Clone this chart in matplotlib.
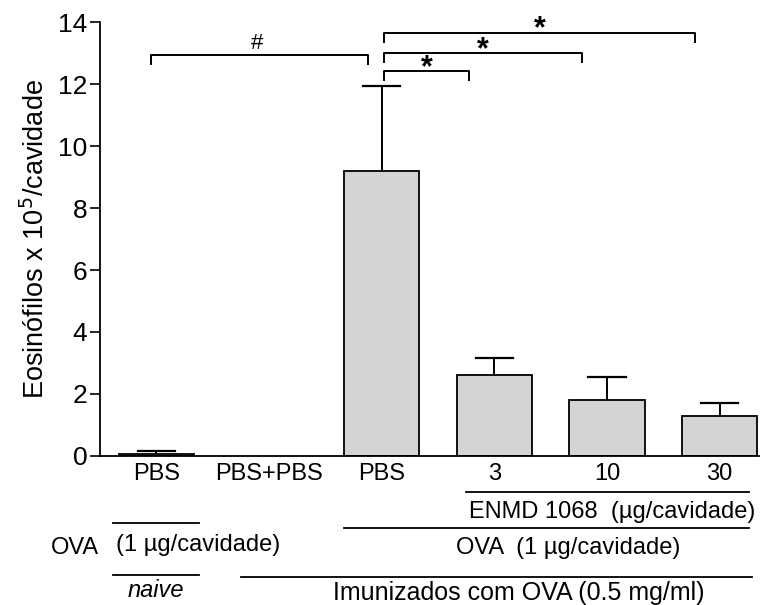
import matplotlib.pyplot as plt
from matplotlib.transforms import blended_transform_factory

plt.rcParams['font.family'] = ['Liberation Sans', 'DejaVu Sans']

grupos = ['PBS', 'PBS+PBS', 'PBS', '3', '10', '30']
medias = [0.08, 0.0, 9.2, 2.6, 1.8, 1.3]
erros = [0.07, 0.0, 2.75, 0.55, 0.75, 0.42]

# comparacoes: (grupo a, grupo b, altura, simbolo)
comparacoes = [(0, 2, 12.95, '#'), (2, 3, 12.42, '*'), (2, 4, 13.0, '*'), (2, 5, 13.65, '*')]

fig = plt.figure(figsize=(7.69, 6.05), dpi=100)
ax = fig.add_axes([0.130, 0.2463, 0.857, 0.7173])

x = list(range(len(grupos)))
barras = [i for i in x if medias[i] > 0]
ax.bar([x[i] for i in barras], [medias[i] for i in barras], width=0.67,
       color='#d4d4d4', edgecolor='black', linewidth=1.3, zorder=2)
for i in barras:
    topo = medias[i] + erros[i]
    ax.plot([x[i], x[i]], [medias[i], topo], color='black', lw=1.4, zorder=1)
    ax.plot([x[i] - 0.165, x[i] + 0.165], [topo, topo], color='black', lw=1.6, zorder=1)

for a, b, h, s in comparacoes:
    xa = x[a] + (-0.05 if a == 0 else 0.02)
    xb = x[b] - (0.12 if s == '#' else 0.22)
    ax.plot([xa, xa, xb, xb], [h - 0.3, h, h, h - 0.3], color='black', lw=1.4, clip_on=False)
    if s == '#':
        ax.text((xa + xb) / 2 - 0.02, h + 0.02, s, ha='center', va='bottom', fontsize=16)
    else:
        ax.text((xa + xb) / 2, h - 0.38, s, ha='center', va='bottom', fontsize=22,
                fontweight='bold')

ax.set_xlim(-0.5, 5.35)
ax.set_ylim(0, 14)
ax.set_yticks(range(0, 15, 2))
ax.set_xticks(x)
ax.set_xticklabels(grupos, fontsize=17)
ax.tick_params(axis='x', length=0, pad=5)
ax.tick_params(axis='y', labelsize=19, length=7, width=1.2, pad=2)
ax.set_ylabel('Eosinófilos x 10$^5$/cavidade', fontsize=19.5, labelpad=6)
for lado in ['top', 'right']:
    ax.spines[lado].set_visible(False)
for lado in ['left', 'bottom']:
    ax.spines[lado].set_linewidth(1.3)

# legendas dos grupos abaixo do eixo
tr = blended_transform_factory(ax.transData, ax.transAxes)
linhas = [(2.75, 5.26, -0.083), (1.67, 5.26, -0.166), (-0.38, 0.38, -0.154),
          (-0.38, 0.38, -0.274), (0.75, 5.29, -0.279)]
for x0, x1, y in linhas:
    ax.plot([x0, x1], [y, y], color='black', lw=1.3, transform=tr, clip_on=False)

kw = dict(transform=tr, fontsize=17, va='center')
ax.text(4.05, -0.129, 'ENMD 1068  (µg/cavidade)', ha='center', **kw)
ax.text(3.66, -0.212, 'OVA  (1 µg/cavidade)', ha='center', **kw)
ax.text(-0.36, -0.205, '(1 µg/cavidade)', ha='left', **kw)
ax.text(-0.51, -0.212, 'OVA', ha='right', **kw)
ax.text(0.0, -0.309, 'naive', ha='center', style='italic', **kw)
ax.text(3.22, -0.316, 'Imunizados com OVA (0.5 mg/ml)', ha='center',
        **{**kw, 'fontsize': 18})

fig.savefig('out.png', dpi=100)
